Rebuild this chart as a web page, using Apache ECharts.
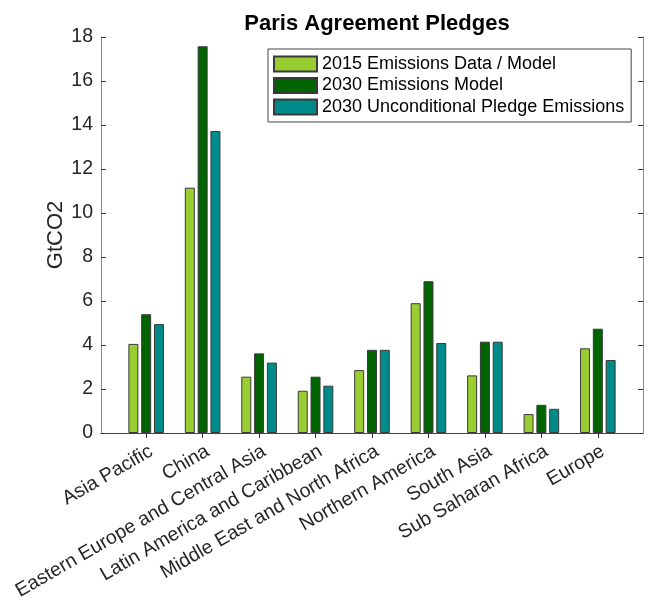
<!DOCTYPE html>
<html><head><meta charset="utf-8">
<script src="https://cdn.jsdelivr.net/npm/echarts@6/dist/echarts.min.js"></script>
<style>html,body{margin:0;padding:0;background:#fff}#c{width:666px;height:605px}</style>
</head><body><div id="c"></div>
<script>
const regions = ['Asia Pacific', 'China', 'Eastern Europe and Central Asia', 'Latin America and Caribbean',
  'Middle East and North Africa', 'Northern America', 'South Asia', 'Sub Saharan Africa', 'Europe'];
const regionPositions = [1, 2, 3, 4, 5, 6, 7, 8, 9];
const emissions2015 = [4.05, 11.15, 2.56, 1.92, 2.86, 5.9, 2.62, 0.86, 3.85];
const emissions2030Model = [5.4, 17.58, 3.62, 2.56, 3.78, 6.9, 4.15, 1.28, 4.74];
const emissions2030Pledge = [4.95, 13.73, 3.2, 2.15, 3.78, 4.09, 4.15, 1.1, 3.32];
const seriesNames = ['2015 Emissions Data / Model', '2030 Emissions Model', '2030 Unconditional Pledge Emissions'];
const seriesColors = ['#9acd32', '#006400', '#008b8b'];
const yTickMin = 0, yTickMax = 18, yTickStep = 2;

const FONT = "'Liberation Sans', Arial, Helvetica, sans-serif";
const chart = echarts.init(document.getElementById('c'), null, {renderer: 'canvas'});
const pair = arr => arr.map((v, i) => [regionPositions[i], v]);
const seriesData = [emissions2015, emissions2030Model, emissions2030Pledge];

const xBase = {
  type: 'value', min: 0.2, max: 9.8,
  splitLine: {show: false},
  axisLine: {show: true, lineStyle: {color: '#8c8c8c', width: 1}},
  axisTick: {show: true, inside: true, length: 5, customValues: regionPositions, lineStyle: {color: '#333'}}
};
const yBase = {
  type: 'value', min: yTickMin, max: yTickMax, interval: yTickStep,
  splitLine: {show: false},
  axisLine: {show: true, lineStyle: {color: '#8c8c8c', width: 1}},
  axisTick: {show: true, inside: true, length: 5, lineStyle: {color: '#333'}}
};

chart.setOption({
  animation: false,
  backgroundColor: '#fff',
  title: {
    text: 'Paris Agreement Pledges', left: 372, top: 8, textAlign: 'center',
    textStyle: {fontFamily: FONT, fontSize: 22, fontWeight: 'bold', color: '#000'}
  },
  legend: {
    orient: 'vertical', left: 268, top: 49,
    itemWidth: 43, itemHeight: 15, itemGap: 3.5,
    padding: [6, 7, 6, 5],
    borderColor: '#444', borderWidth: 1, backgroundColor: '#fff',
    selectedMode: false, icon: 'rect',
    textStyle: {fontFamily: FONT, fontSize: 18, color: '#000'},
    data: seriesNames
  },
  grid: {left: 101, right: 23, top: 37, bottom: 172, containLabel: false},
  xAxis: [
    Object.assign({}, xBase, {
      position: 'bottom',
      axisLabel: {
        show: true, customValues: regionPositions, rotate: 30, margin: 20,
        padding: [0, -6, 0, 0],
        fontFamily: FONT, fontSize: 19.5, color: '#262626',
        formatter: v => regions[Math.round(v) - 1] || ''
      }
    }),
    Object.assign({}, xBase, {position: 'top', axisLabel: {show: false}, axisLine: {show: true, lineStyle: {color: '#444', width: 1}}})
  ],
  yAxis: [
    Object.assign({}, yBase, {
      position: 'left',
      name: 'GtCO2', nameLocation: 'middle', nameGap: 34, nameMoveOverlap: false,
      nameTextStyle: {fontFamily: FONT, fontSize: 22, color: '#262626'},
      axisLabel: {fontFamily: FONT, fontSize: 19.5, color: '#262626', margin: 8}
    }),
    Object.assign({}, yBase, {position: 'right', axisLabel: {show: false}})
  ],
  series: seriesNames.map((name, k) => ({
    name, type: 'bar', xAxisIndex: 0, yAxisIndex: 0,
    barWidth: 10, barGap: '28%',
    itemStyle: {color: seriesColors[k], borderColor: '#3a3a3a', borderWidth: 1},
    data: pair(seriesData[k])
  }))
});
</script></body></html>
